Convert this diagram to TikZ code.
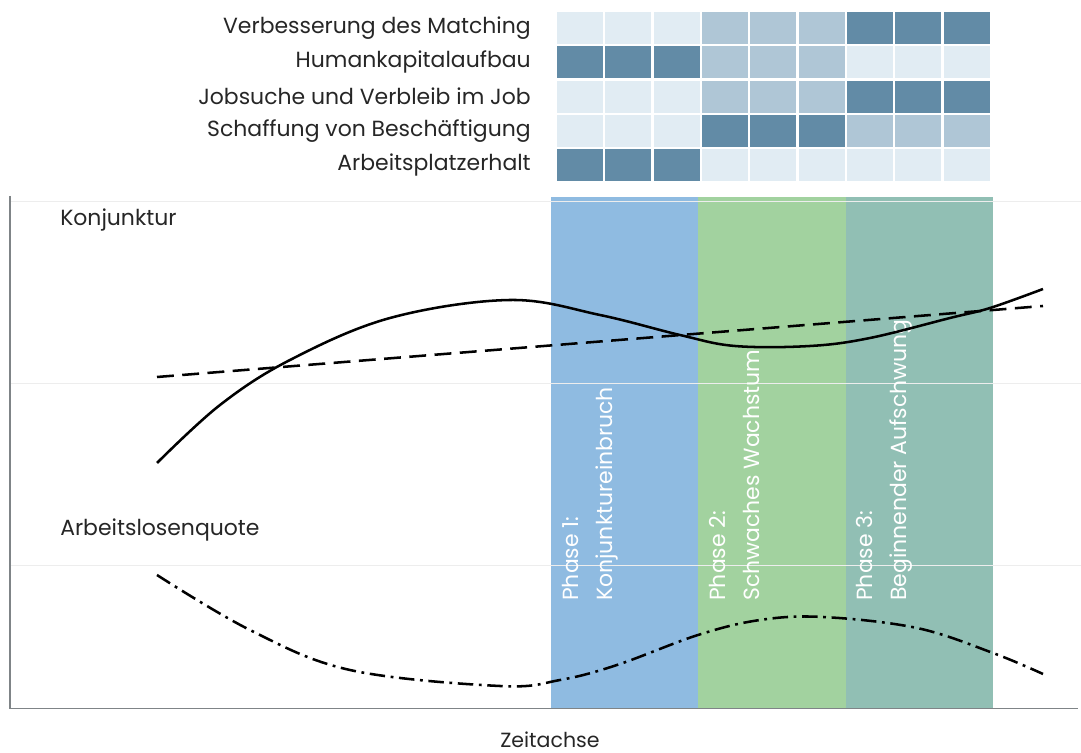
\documentclass[tikz,border=0pt]{standalone}
\usepackage{fontspec}
\setmainfont{Poppins}
\usetikzlibrary{positioning}
\definecolor{cellL}{HTML}{E1ECF3}
\definecolor{cellM}{HTML}{AFC6D6}
\definecolor{cellD}{HTML}{628BA6}
\definecolor{phaseA}{HTML}{8FBBE1}
\definecolor{phaseB}{HTML}{A2D29F}
\definecolor{phaseC}{HTML}{91BFB4}
\definecolor{axisgray}{HTML}{7F8487}
\tikzset{
	rowlab/.style={anchor=east, inner sep=0pt, font=\fontsize{15.6}{17}\selectfont, text=black!85},
	phaselab/.style={rotate=90, anchor=north west, align=left, inner sep=0pt, text=white, font=\fontsize{15.6}{24}\selectfont},
	curve/.style={line width=1.8pt, black}
}
\begin{document}
\begin{tikzpicture}[
		x=0.025cm, y=-0.025cm,
		axislab/.style={anchor=west, inner sep=0pt, font=\fontsize{15.6}{17}\selectfont, text=black!85},
		gridline/.style={black!7, line width=0.6pt}
		]
		\useasboundingbox (0,0) rectangle (1081,753);
		
		\foreach \r/\lab/\a/\b/\c in {0/Verbesserung des Matching/cellL/cellM/cellD,
			1/Humankapitalaufbau/cellD/cellM/cellL,
			2/Jobsuche und Verbleib im Job/cellL/cellM/cellD,
			3/Schaffung von Beschäftigung/cellL/cellD/cellM,
			4/Arbeitsplatzerhalt/cellD/cellL/cellL}{
			\node[rowlab] (lab\r) at (531, 28.3+34.15*\r) {\lab};
			\foreach \g/\col in {0/\a, 1/\b, 2/\c}
			\foreach \k in {0,1,2}
			\fill[\col] (557+48.35*\g*3+48.35*\k, 12.3+34.15*\r) rectangle ++(46, 32);
		}
		
		\fill[phaseA] (551,197) rectangle (698,708);
		\fill[phaseB] (698,197) rectangle (846,708);
		\fill[phaseC] (846,197) rectangle (993,708);
		
		\foreach \y in {201,383,565}
		\draw[gridline] (10,\y) -- (1081,\y);
		
		\draw[axisgray, line width=1.2pt] (10,196) -- (10,708.5) -- (1078,708.5);
		
		\node[axislab] (konj) at (60,220) {Konjunktur};
		\node[axislab] (alq) at (60,530) {Arbeitslosenquote};
		\node[axislab, anchor=base, font=\fontsize{14.6}{16}\selectfont] (zeit) at (550,748) {Zeitachse};
		
		\node[phaselab] (ph1) at (562,601) {Phase 1:\\Konjunktureinbruch};
		\node[phaselab] (ph2) at (709,601) {Phase 2:\\Schwaches Wachstum};
		\node[phaselab] (ph3) at (856,601) {Phase 3:\\Beginnender Aufschwung};
		
		\draw[curve, dash pattern=on 12pt off 6pt] (157,377) -- (1043,306);
		\draw[curve] plot[smooth, tension=0.6] coordinates {(157,463) (220,405) (290,360) (390,318) (510,300) (600,315) (680,335) (735,346) (810,346) (870,338) (950,318) (990,308) (1043,289)};
		\draw[curve, dash pattern=on 11pt off 4pt on 2pt off 4pt] plot[smooth, tension=0.6] coordinates {(157,575) (250,630) (350,670) (500,686) (560,680) (617,665) (698,635) (760,620) (823,617) (917,628) (993,653) (1043,674)};
	\end{tikzpicture}
\end{document}
